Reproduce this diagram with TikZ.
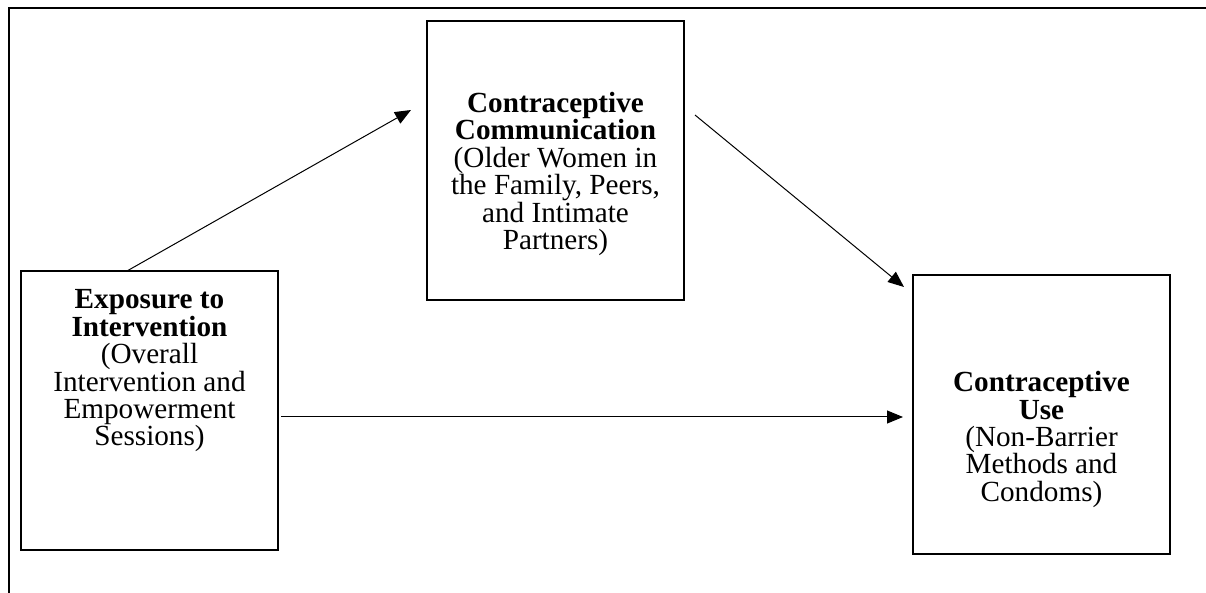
\documentclass[tikz,border=0pt]{standalone}
\usepackage{fontspec}
\setmainfont{Liberation Serif}
\usetikzlibrary{arrows.meta}

\tikzset{
  box/.style={draw, line width=1.1pt, minimum width=128.5pt, minimum height=139.5pt, inner sep=0pt},
  boxtext/.style={align=center, inner sep=0pt, font=\fontsize{14.6}{13.7}\selectfont},
  arr/.style={-{Triangle[length=8pt,width=6.5pt]}, line width=0.5pt}
}

\begin{document}
\begin{tikzpicture}[x=0.5pt,y=-0.5pt]
\useasboundingbox (0,0) rectangle (1206,593);
% outer frame
\draw[line width=1.2pt] (9,593) -- (9,8) -- (1206,8);

% boxes
\node[box] (expo) at (149.5,410.5) {};
\node[box] (comm) at (555.5,160.5) {};
\node[box] (use) at (1041.5,414.5) {};

\node[boxtext] (expotxt) at (149.5,371) {\textbf{Exposure to}\\\textbf{Intervention}\\(Overall\\Intervention and\\Empowerment\\Sessions)};
\node[boxtext] (commtxt) at (555.5,174) {\textbf{Contraceptive}\\\textbf{Communication}\\(Older Women in\\the Family, Peers,\\and Intimate\\Partners)};
\node[boxtext] (usetxt) at (1041.5,439.5) {\textbf{Contraceptive}\\\textbf{Use}\\(Non-Barrier\\Methods and\\Condoms)};

% arrow ends
\coordinate (a) at (127,271);
\coordinate (b) at (411,110);
\coordinate (c) at (695,115);
\coordinate (d) at (904,287);
\coordinate (e) at (281,417);
\coordinate (f) at (903,417);

\draw[arr] (a) -- (b);
\draw[arr] (c) -- (d);
\draw[arr] (e) -- (f);
\end{tikzpicture}
\end{document}
